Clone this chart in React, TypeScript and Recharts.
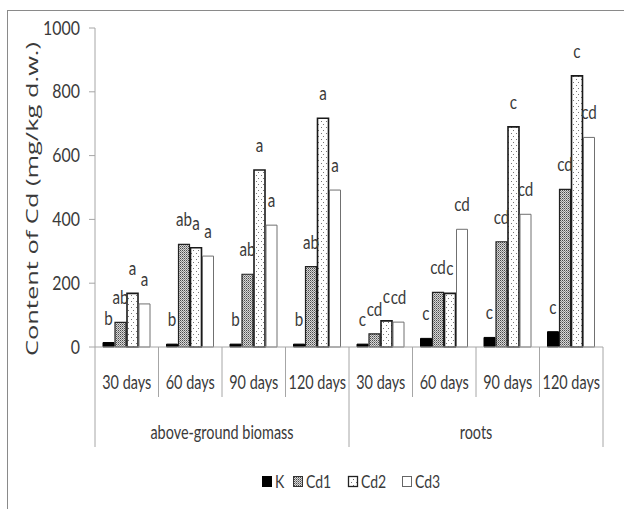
import React from 'react';
import { BarChart, Bar, XAxis, YAxis, LabelList, Legend } from 'recharts';

const categories = ['30 days', '60 days', '90 days', '120 days', '30 days', '60 days', '90 days', '120 days'];
const groups = ['above-ground biomass', 'roots'];
const yTicks = [0, 200, 400, 600, 800, 1000];
const seriesNames = ['K', 'Cd1', 'Cd2', 'Cd3'];

const kValues = [14, 9, 9, 9, 9, 27, 30, 48];
const cd1Values = [77, 322, 228, 252, 41, 171, 330, 494];
const cd2Values = [168, 311, 555, 717, 82, 168, 690, 850];
const cd3Values = [135, 285, 382, 492, 78, 369, 416, 657];

const kLetters = ['b', 'b', 'b', 'b', 'c', 'c', 'c', 'c'];
const cd1Letters = ['ab', 'ab', 'ab', 'ab', 'cd', 'cd', 'cd', 'cd'];
const cd2Letters = ['a', 'a', 'a', 'a', 'c', 'c', 'c', 'c'];
const cd3Letters = ['a', 'a', 'a', 'a', 'cd', 'cd', 'cd', 'cd'];

const data = categories.map((c, i) => ({
  cat: c + '|' + i,
  label: c,
  K: kValues[i],
  Cd1: cd1Values[i],
  Cd2: cd2Values[i],
  Cd3: cd3Values[i],
  kL: kLetters[i],
  cd1L: cd1Letters[i],
  cd2L: cd2Letters[i],
  cd3L: cd3Letters[i],
}));

const FONT = "Lato, 'Open Sans', sans-serif";
const TEXT = '#3a3a3a';
const AXIS = '#a6a6a6';

// Calibri-like narrow text: Lato squeezed horizontally
const NText = ({ x, y, anchor = 'middle', size = 18.5, sx = 0.78, children }: any) => (
  <text
    transform={`translate(${x} ${y}) scale(${sx} 1)`}
    x={0}
    y={0}
    textAnchor={anchor}
    fontFamily={FONT}
    fontSize={size}
    fill={TEXT}
  >
    {children}
  </text>
);

const CategoryTick = ({ x, y, payload }: any) => {
  const half = payload?.offset || 31.75;
  const i = payload.index;
  const left = x - half;
  return (
    <g>
      <line x1={left} y1={y} x2={left} y2={y + (i % 4 === 0 ? 100 : 50)} stroke={AXIS} />
      {i === categories.length - 1 && (
        <line x1={x + half} y1={y} x2={x + half} y2={y + 100} stroke={AXIS} />
      )}
      <NText x={x} y={y + 42}>{data[i]?.label}</NText>
      {i % 4 === 0 && <NText x={left + half * 4} y={y + 92}>{groups[i / 4]}</NText>}
    </g>
  );
};

const ValueTick = ({ x, y, payload }: any) => (
  <NText x={x} y={y + 6.5} anchor="end" size={18.5} sx={0.86}>
    {payload.value}
  </NText>
);

const YTitle = () => (
  <text
    x={31}
    y={356}
    transform="rotate(-90, 31, 356)"
    textAnchor="start"
    dominantBaseline="central"
    fontFamily="'Open Sans', 'DejaVu Sans', sans-serif"
    fontSize={17}
    fill={TEXT}
    textLength={314}
    lengthAdjust="spacingAndGlyphs"
  >
    Content of Cd (mg/kg d.w.)
  </text>
);

const Letter = (props: any) => {
  const { x, y, width, value } = props;
  return (
    <NText x={x + width / 2} y={y - 18} size={19} sx={0.8}>
      {value}
    </NText>
  );
};

const Swatch = ({ kind, x, y }: any) => {
  const r = { x: x + 0.5, y: y + 0.5, width: 9, height: 10 };
  if (kind === 'K') return <rect {...r} fill="#000" stroke="#000" />;
  if (kind === 'Cd1') return <rect {...r} fill="url(#patCd1)" stroke="#333" />;
  if (kind === 'Cd2') return <rect {...r} fill="url(#patCd2)" stroke="#222" strokeWidth={1.3} />;
  return <rect {...r} fill="#fff" stroke="#666" />;
};

const legendIconX = [262, 293, 348, 402];

const LegendContent = () => (
  <svg width={624} height={50}>
    {seriesNames.map((k, i) => (
      <g key={k}>
        <Swatch kind={k} x={legendIconX[i]} y={19} />
        <NText x={legendIconX[i] + 13} y={31} anchor="start" size={18}>
          {k}
        </NText>
      </g>
    ))}
  </svg>
);

export default function App() {
  return (
    <div style={{ position: 'absolute', left: 0, top: 0, width: 624, height: 509, overflow: 'hidden', background: '#fff' }}>
      <div style={{ position: 'absolute', left: 7, top: 10, width: 700, height: 600, borderTop: '1.5px solid #8a8a8a', borderLeft: '1.5px solid #8a8a8a' }} />
      <svg width={0} height={0} style={{ position: 'absolute' }}>
        <defs>
          <pattern id="patCd1" width={2} height={2} patternUnits="userSpaceOnUse">
            <rect width={2} height={2} fill="#d8d8d8" />
            <rect x={0} y={0} width={1} height={1} fill="#4a4a4a" />
            <rect x={1} y={1} width={1} height={1} fill="#8a8a8a" />
          </pattern>
          <pattern id="patCd2" width={5} height={6} patternUnits="userSpaceOnUse">
            <rect width={5} height={6} fill="#fff" />
            <rect x={1} y={1} width={1} height={1} fill="#777" />
            <rect x={3} y={4} width={1} height={1} fill="#777" />
          </pattern>
        </defs>
      </svg>
      <BarChart
        width={624}
        height={509}
        data={data}
        margin={{ top: 28, right: 21, left: 35, bottom: 2 }}
        barSize={11}
        barGap={1}
      >
        <XAxis
          dataKey="cat"
          interval={0}
          height={110}
          tickLine={false}
          tickSize={0}
          tickMargin={0}
          axisLine={{ stroke: AXIS }}
          tick={<CategoryTick />}
        />
        <YAxis
          width={60}
          domain={[0, 1000]}
          ticks={yTicks}
          interval={0}
          tickSize={6}
          tickMargin={9}
          axisLine={{ stroke: AXIS }}
          tickLine={{ stroke: AXIS }}
          tick={<ValueTick />}
          label={<YTitle />}
        />
        <Legend
          verticalAlign="bottom"
          height={50}
          wrapperStyle={{ left: 0, width: 624 }}
          content={<LegendContent />}
        />
        <Bar dataKey="K" fill="#000" stroke="#000" isAnimationActive={false}>
          <LabelList dataKey="kL" content={<Letter />} />
        </Bar>
        <Bar dataKey="Cd1" fill="url(#patCd1)" stroke="#222" strokeWidth={1.2} isAnimationActive={false}>
          <LabelList dataKey="cd1L" content={<Letter />} />
        </Bar>
        <Bar dataKey="Cd2" fill="url(#patCd2)" stroke="#1a1a1a" strokeWidth={1.6} isAnimationActive={false}>
          <LabelList dataKey="cd2L" content={<Letter />} />
        </Bar>
        <Bar dataKey="Cd3" fill="#fff" stroke="#707070" strokeWidth={1} isAnimationActive={false}>
          <LabelList dataKey="cd3L" content={<Letter />} />
        </Bar>
      </BarChart>
    </div>
  );
}
